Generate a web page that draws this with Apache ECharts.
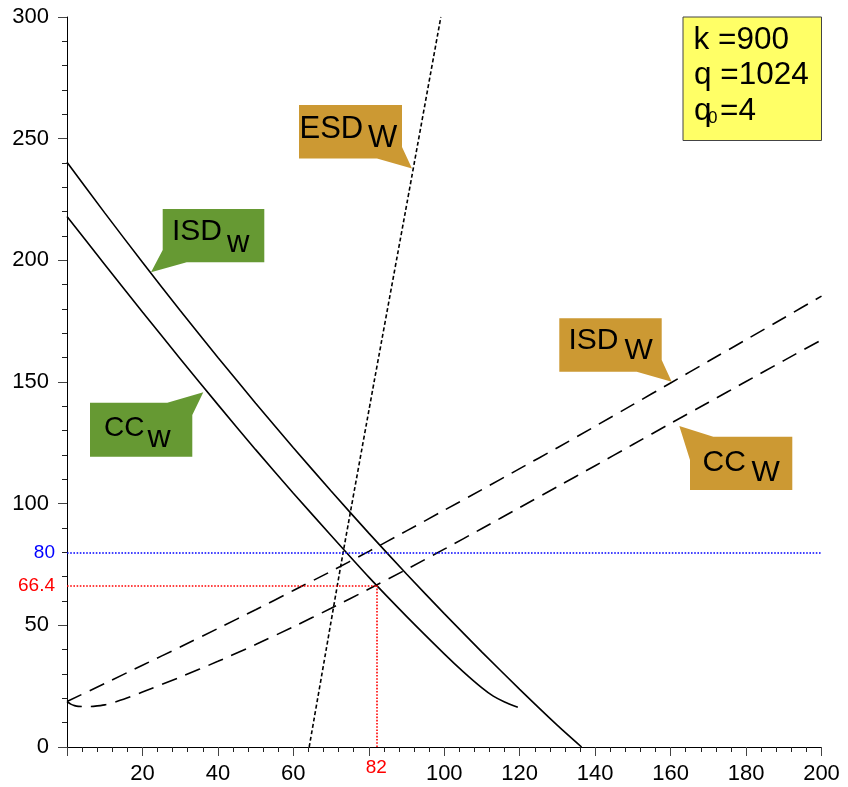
<!DOCTYPE html>
<html><head><meta charset="utf-8">
<script src="https://cdn.jsdelivr.net/npm/echarts@6/dist/echarts.min.js"></script>
<style>html,body{margin:0;padding:0;background:#fff}#c{width:848px;height:787px}</style>
</head><body><div id="c"></div>
<script>
// ---- data ----
const isdSmallX = [0, 10, 20, 30, 40, 50, 60, 70, 80, 90, 100, 110, 120, 130, 136.4];
const isdSmallY = [240.3, 219.5, 199.2, 179.4, 160.1, 141.3, 123.0, 105.2, 87.9, 71.1, 54.8, 39.0, 23.7, 8.9, 0];
const ccSmallX = [0, 10, 20, 30, 40, 50, 60, 70, 80, 90, 100, 105, 110, 113, 116, 119.5];
const ccSmallY = [218, 198.3, 178.8, 159.6, 140.7, 122.2, 104.3, 86.9, 69.8, 53.7, 38.3, 31.0, 24.3, 20.9, 18.5, 16.3];
const isdBigX = [0, 10, 20, 30, 40, 50, 60, 70, 80, 90, 100, 110, 120, 130, 140, 150, 160, 170, 180, 190, 200];
const isdBigY = [18.7, 26.1, 33.6, 41.1, 48.7, 56.4, 64.3, 72.2, 80.4, 88.8, 97.3, 105.8, 114.4, 123.0, 131.8, 140.7, 149.6, 158.5, 167.4, 176.3, 185.3];
const ccBigX = [0, 1, 2, 3, 5, 7, 10, 15, 20, 30, 40, 50, 60, 70, 80, 90, 100, 110, 120, 130, 140, 150, 160, 170, 180, 190, 200];
const ccBigY = [18.7, 17.6, 17.0, 16.7, 16.6, 16.7, 17.3, 19.6, 22.6, 28.7, 35.2, 42.1, 49.4, 57.0, 64.9, 73.0, 81.3, 89.8, 98.4, 107.0, 115.6, 124.3, 133.0, 141.6, 150.2, 158.8, 167.3];
const esdX = [64.2, 68.7, 73.2, 81.4, 89.7, 99.1];
const esdY = [0, 40, 80, 150, 220, 300];
const wageLevel = 80;          // blue line
const eqX = 82, eqY = 66.4;    // red lines
const hiddenXLabels = [0, 80]; // replaced by the red 82 label
const paramLines = ['k =900', 'q =1024'];

const pairs = (xs, ys) => xs.map((x, i) => [x, ys[i]]);
const FONT = '"Liberation Sans", Arial, sans-serif';

const chart = echarts.init(document.getElementById('c'), null, {renderer: 'canvas'});

function txt(text, x, y, size) {
  return {type: 'text', z: 100, style: {text: text, x: x, y: y, fontSize: size, fontFamily: FONT, fill: '#000',
    textAlign: 'left', textVerticalAlign: 'middle', align: 'left', verticalAlign: 'middle'}};
}
function poly(points, color) {
  return {type: 'polygon', z: 90, shape: {points: points}, style: {fill: color, stroke: null}};
}
const GREEN = '#669933', TAN = '#CC9933';

const axisCommon = {
  type: 'value',
  axisLine: {show: true, onZero: false, lineStyle: {color: '#000', width: 1}},
  axisTick: {show: true, length: 9, lineStyle: {color: '#444'}},
  minorTick: {show: true, splitNumber: 5, length: 5, lineStyle: {color: '#222'}},
  splitLine: {show: false},
  minorSplitLine: {show: false}
};

const option = {
  animation: false,
  grid: {left: 67, right: 26.5, top: 17, bottom: 40},
  xAxis: Object.assign({}, axisCommon, {
    min: 0, max: 200, interval: 20,
    axisLabel: {margin: 16, fontSize: 22, color: '#000', fontFamily: FONT,
      showMaxLabel: true, alignMaxLabel: 'center', hideOverlap: false,
      formatter: v => hiddenXLabels.indexOf(v) >= 0 ? '' : String(v)}
  }),
  yAxis: Object.assign({}, axisCommon, {
    min: 0, max: 300, interval: 50,
    axisLabel: {margin: 18, fontSize: 22, color: '#000', fontFamily: FONT,
      showMaxLabel: true, showMinLabel: true, alignMaxLabel: 'right', alignMinLabel: 'right', hideOverlap: false}
  }),
  series: [
    {type: 'line', name: 'ISDw', data: pairs(isdSmallX, isdSmallY), showSymbol: false, smooth: 0.2,
      lineStyle: {color: '#000', width: 1.6}, silent: true},
    {type: 'line', name: 'CCw', data: pairs(ccSmallX, ccSmallY), showSymbol: false, smooth: 0.2,
      lineStyle: {color: '#000', width: 1.6}, silent: true},
    {type: 'line', name: 'ISDW', data: pairs(isdBigX, isdBigY), showSymbol: false, smooth: 0.2,
      lineStyle: {color: '#000', width: 1.6, type: [16, 9]}, silent: true},
    {type: 'line', name: 'CCW', data: pairs(ccBigX, ccBigY), showSymbol: false, smooth: 0.2,
      lineStyle: {color: '#000', width: 1.6, type: [16, 9]}, silent: true},
    {type: 'line', name: 'ESDW', data: pairs(esdX, esdY), showSymbol: false, smooth: 0.2,
      lineStyle: {color: '#000', width: 1.6, type: [4, 2.5]}, silent: true},
    {type: 'line', name: 'refs', data: [], silent: true,
      markLine: {
        symbol: 'none', silent: true, animation: false,
        data: [
          [{coord: [0, wageLevel], lineStyle: {color: '#0000ff', width: 1.6, type: [1.6, 1.6]},
            label: {show: true, position: 'start', formatter: String(wageLevel), color: '#0000ff', fontSize: 19, fontFamily: FONT, distance: 12}},
           {coord: [200, wageLevel]}],
          [{coord: [0, eqY], lineStyle: {color: '#ff0000', width: 1.6, type: [1.6, 1.6]},
            label: {show: true, position: 'start', formatter: String(eqY), color: '#ff0000', fontSize: 19, fontFamily: FONT, distance: 12}},
           {coord: [eqX, eqY]}],
          [{coord: [eqX, 0], lineStyle: {color: '#ff0000', width: 1.6, type: [1.6, 1.6]},
            label: {show: true, position: 'start', formatter: String(eqX), color: '#ff0000', fontSize: 19, fontFamily: FONT, distance: 11}},
           {coord: [eqX, eqY]}]
        ]
      }}
  ],
  graphic: [
    // ESD_W callout
    poly([[299, 105], [402, 105], [402, 147], [412, 168.5], [377, 158.5], [299, 158.5]], TAN),
    txt('ESD', 299.5, 129, 31), txt('W', 368, 138.5, 31),
    // ISD_w (green)
    poly([[162.7, 209], [264.3, 209], [264.3, 262.3], [186.7, 262.3], [151, 272.3], [162.7, 250]], GREEN),
    txt('ISD', 172, 232, 30), txt('w', 227, 243.5, 31),
    // CC_w (green)
    poly([[90, 402.7], [167.3, 402.7], [203.3, 392.3], [192.3, 415], [192.3, 456.7], [90, 456.7]], GREEN),
    txt('CC', 104, 428, 28), txt('w', 147.5, 438.5, 32),
    // ISD_W (tan)
    poly([[559.3, 318.3], [661.7, 318.3], [661.7, 360], [671.7, 381.7], [636.7, 371.7], [559.3, 371.7]], TAN),
    txt('ISD', 568.5, 341, 30), txt('W', 624.5, 351, 30),
    // CC_W (tan)
    poly([[713.3, 436.7], [792.3, 436.7], [792.3, 490], [690, 490], [690, 460], [679.3, 426]], TAN),
    txt('CC', 702.5, 463, 30), txt('W', 751.5, 472.5, 30),
    // parameter box
    {type: 'rect', z: 90, shape: {x: 683, y: 17, width: 138.5, height: 123.5},
      style: {fill: '#FFFF66', stroke: '#444', lineWidth: 1}},
    txt(paramLines[0], 693.5, 40.5, 31.5),
    txt(paramLines[1], 694, 75, 31.5),
    txt('q', 694, 111.5, 31.5), txt('0', 708, 118, 17), txt('=4', 720, 111.5, 31.5)
  ]
};
chart.setOption(option);
</script>
</body></html>
